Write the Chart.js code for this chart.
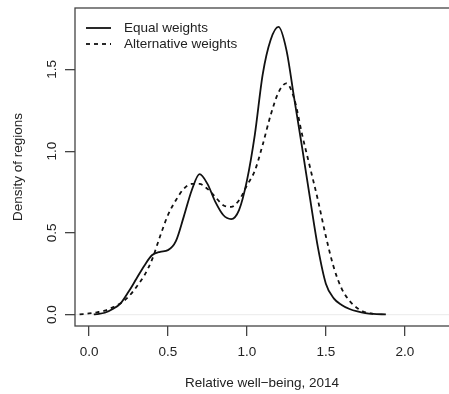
<!DOCTYPE html>
<html>
<head>
<meta charset="utf-8">
<script src="https://cdn.jsdelivr.net/npm/chart.js@4"></script>
<style>
  html, body { margin: 0; padding: 0; background: #fff; }
  #wrap { width: 449px; height: 394px; }
</style>
</head>
<body>
<div id="wrap"><canvas id="myChart" width="449" height="394"></canvas></div>
<script>
// values
var equalX = [0.03, 0.05, 0.1, 0.15, 0.2, 0.25, 0.3, 0.35, 0.4, 0.45, 0.5, 0.55, 0.6, 0.65, 0.7, 0.75, 0.8, 0.85, 0.9, 0.95, 1.0, 1.05, 1.1, 1.15, 1.2, 1.25, 1.3, 1.35, 1.4, 1.45, 1.5, 1.55, 1.6, 1.65, 1.7, 1.75, 1.8, 1.88];
var equalY = [0.002, 0.004, 0.012, 0.035, 0.07, 0.14, 0.22, 0.3, 0.365, 0.385, 0.395, 0.45, 0.6, 0.76, 0.86, 0.8, 0.69, 0.61, 0.585, 0.64, 0.82, 1.1, 1.47, 1.68, 1.76, 1.62, 1.32, 1.02, 0.71, 0.41, 0.19, 0.1, 0.06, 0.035, 0.02, 0.01, 0.005, 0.002];
var altX = [-0.06, 0.0, 0.05, 0.1, 0.15, 0.2, 0.25, 0.3, 0.35, 0.4, 0.45, 0.5, 0.55, 0.6, 0.65, 0.7, 0.75, 0.8, 0.85, 0.9, 0.95, 1.0, 1.05, 1.1, 1.15, 1.2, 1.25, 1.3, 1.35, 1.4, 1.45, 1.5, 1.55, 1.6, 1.65, 1.7, 1.75, 1.8];
var altY = [0.002, 0.008, 0.015, 0.025, 0.045, 0.07, 0.11, 0.17, 0.24, 0.34, 0.48, 0.61, 0.7, 0.77, 0.8, 0.8, 0.77, 0.72, 0.67, 0.66, 0.7, 0.79, 0.88, 1.04, 1.22, 1.36, 1.415, 1.32, 1.1, 0.9, 0.7, 0.48, 0.29, 0.16, 0.085, 0.04, 0.015, 0.005];
var xTicks = [0.0, 0.5, 1.0, 1.5, 2.0];
var yTicks = [0.0, 0.5, 1.0, 1.5];
var seriesNames = ["Equal weights", "Alternative weights"];

function toPoints(xs, ys) {
  return xs.map(function (x, i) { return {x: x, y: ys[i]}; });
}

var fontFamily = '"Liberation Sans", Arial, Helvetica, sans-serif';
var fontSize = 13.5;
var ink = '#222';

// box round the plot (R style, right side falls off the canvas)
var boxPlugin = {
  id: 'box',
  afterDraw: function (chart) {
    var ca = chart.chartArea, ctx = chart.ctx;
    ctx.save();
    ctx.strokeStyle = '#444';
    ctx.lineWidth = 1.3;
    ctx.strokeRect(ca.left, ca.top, ca.width + 10, ca.bottom - ca.top);
    ctx.restore();
  }
};

// legend inside the plot, top left
var legendPlugin = {
  id: 'innerLegend',
  afterDraw: function (chart) {
    var ca = chart.chartArea, ctx = chart.ctx;
    ctx.save();
    ctx.font = fontSize + 'px ' + fontFamily;
    ctx.textBaseline = 'middle';
    ctx.fillStyle = ink;
    chart.data.datasets.forEach(function (ds, i) {
      var y = ca.top + 20 + i * 16;
      ctx.beginPath();
      ctx.setLineDash(ds.borderDash || []);
      ctx.strokeStyle = ds.borderColor;
      ctx.lineWidth = ds.borderWidth;
      ctx.moveTo(ca.left + 11, y);
      ctx.lineTo(ca.left + 36, y);
      ctx.stroke();
      ctx.setLineDash([]);
      ctx.fillText(ds.label, ca.left + 49, y);
    });
    ctx.restore();
  }
};

function noPad(scale) {
  scale.paddingTop = 0;
  scale.paddingBottom = 0;
  scale.paddingLeft = 0;
  scale.paddingRight = 0;
}

const data = {
  datasets: [
    {
      label: seriesNames[0],
      data: toPoints(equalX, equalY),
      borderColor: '#111',
      borderWidth: 1.8,
      pointRadius: 0,
      cubicInterpolationMode: 'monotone',
    },
    {
      label: seriesNames[1],
      data: toPoints(altX, altY),
      borderColor: '#111',
      borderWidth: 1.8,
      borderDash: [4, 4],
      pointRadius: 0,
      cubicInterpolationMode: 'monotone',
    }
  ]
};

const config = {
  type: 'line',
  data: data,
  options: {
    responsive: false,
    animation: false,
    layout: { padding: { top: 8, right: 0, left: 0, bottom: 0 } },
    plugins: {
      legend: { display: false },
      tooltip: { enabled: false },
    },
    scales: {
      x: {
        type: 'linear',
        min: -0.089,
        max: 2.28,
        afterBuildTicks: function (scale) {
          scale.ticks = xTicks.map(function (v) { return {value: v}; });
        },
        afterFit: function (scale) { scale.height = 68; noPad(scale); },
        border: { display: false },
        grid: { drawOnChartArea: false, drawTicks: true, tickLength: 10, tickColor: '#444', lineWidth: 1.3 },
        ticks: {
          padding: 8,
          color: ink,
          font: { family: fontFamily, size: fontSize },
          maxRotation: 0,
          callback: function (v) { return v.toFixed(1); },
        },
        title: {
          display: true,
          text: 'Relative well\u2212being, 2014',
          color: ink,
          font: { family: fontFamily, size: fontSize },
          padding: { top: 0, bottom: 3 },
        },
      },
      y: {
        type: 'linear',
        min: -0.069,
        max: 1.876,
        afterBuildTicks: function (scale) {
          scale.ticks = yTicks.map(function (v) { return {value: v}; });
        },
        afterFit: function (scale) { scale.width = 75; noPad(scale); },
        border: { display: false },
        grid: {
          drawOnChartArea: true,
          drawTicks: true,
          tickLength: 10,
          tickColor: '#444',
          lineWidth: 1.3,
          color: function (ctx) { return ctx.tick && ctx.tick.value === 0 ? '#eeeeee' : 'rgba(0,0,0,0)'; },
        },
        ticks: {
          padding: 3,
          color: ink,
          crossAlign: 'center',
          minRotation: 90,
          maxRotation: 90,
          font: { family: fontFamily, size: fontSize },
          callback: function (v) { return v.toFixed(1); },
        },
        title: {
          display: true,
          text: 'Density of regions',
          color: ink,
          font: { family: fontFamily, size: fontSize },
          padding: { top: 10, bottom: 0 },
        },
      },
    },
  },
  plugins: [boxPlugin, legendPlugin],
};

var chart = new Chart('myChart', config);
</script>
</body>
</html>
